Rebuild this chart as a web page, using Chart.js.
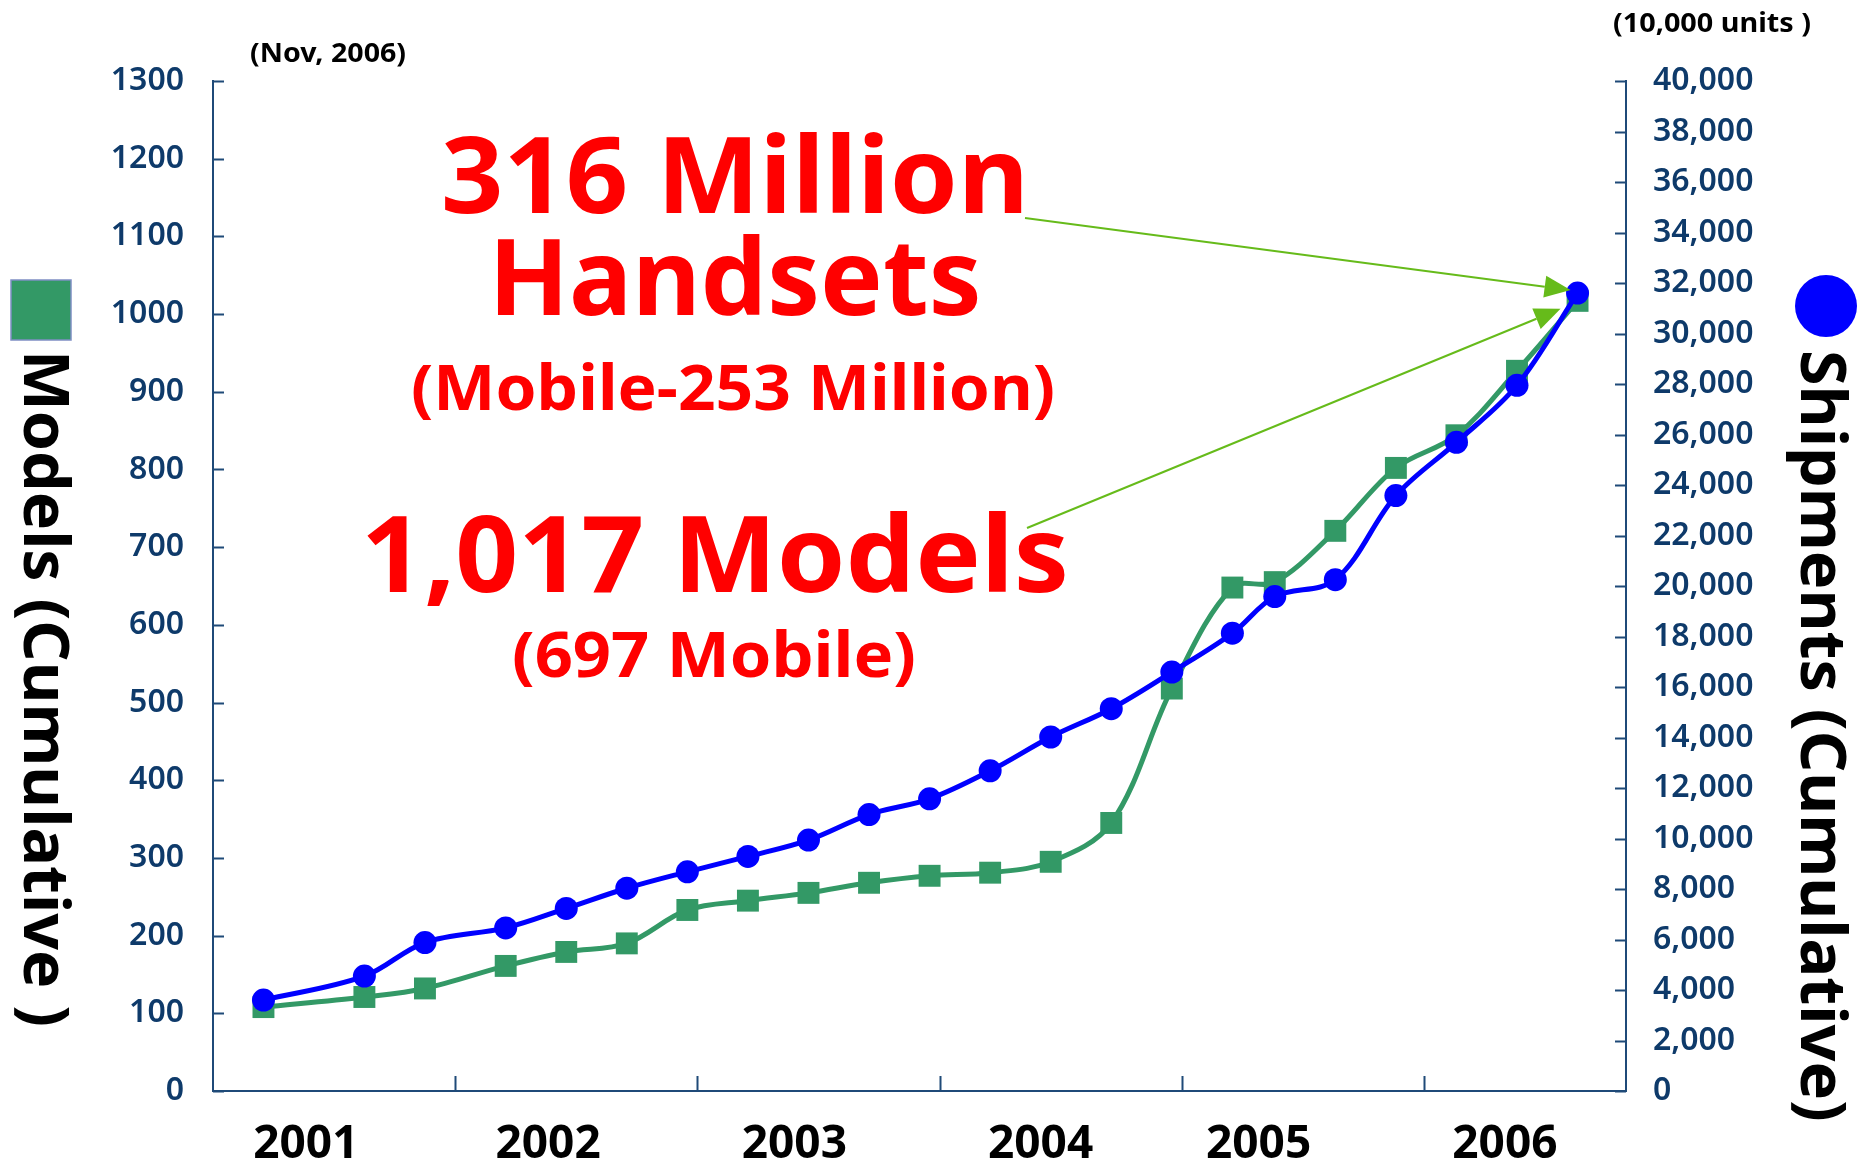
<!DOCTYPE html>
<html>
<head>
<meta charset="utf-8">
<script src="https://cdn.jsdelivr.net/npm/chart.js@4.4.0/dist/chart.umd.min.js"></script>
<style>
  html, body { margin: 0; padding: 0; background: #fff; overflow: hidden; }
</style>
</head>
<body>
<canvas id="chart" width="1858" height="1161"></canvas>
<script>
// months since Jan 2001 for each survey point
const months = [2.5, 7.5, 10.5, 14.5, 17.5, 20.5, 23.5, 26.5, 29.5, 32.5, 35.5,
                38.5, 41.5, 44.5, 47.5, 50.5, 52.6, 55.6, 58.6, 61.6, 64.6, 67.6];
// cumulative shipments (10,000 units)
const shipments = [3600, 4550, 5880, 6460, 7230, 8030, 8680, 9290, 9940, 10950, 11570,
                   12680, 14020, 15140, 16590, 18130, 19580, 20250, 23580, 25690, 27950, 31600];
// cumulative models
const models = [108, 121, 132, 161, 179, 190, 233, 245, 255, 268, 277,
                281, 295, 345, 518, 648, 655, 721, 802, 844, 927, 1017];
const years = ['2001', '2002', '2003', '2004', '2005', '2006'];
const yearLabelAt = [4.6, 16.6, 28.8, 41.0, 51.8, 64.0];
const yearBreaks = [12, 24, 36, 48, 60];

const AXIS = '#1f4a78';
const TICK_TXT = '#0e3a6a';
const GREEN = '#339966';
const BLUE = '#0000ff';
const ARROW = '#66bb1a';

function fitText(ctx, text, x, y, font, width, align, rot) {
  ctx.save();
  ctx.font = font;
  const w = ctx.measureText(text).width;
  ctx.translate(x, y);
  if (rot) ctx.rotate(rot);
  ctx.scale(width / w, 1);
  ctx.textAlign = align;
  ctx.textBaseline = 'alphabetic';
  ctx.fillText(text, 0, 0);
  ctx.restore();
}

function arrow(ctx, x1, y1, x2, y2) {
  const a = Math.atan2(y2 - y1, x2 - x1);
  const len = 26, half = 11;
  const bx = x2 - len * Math.cos(a), by = y2 - len * Math.sin(a);
  ctx.save();
  ctx.strokeStyle = ARROW;
  ctx.fillStyle = ARROW;
  ctx.lineWidth = 2;
  ctx.beginPath();
  ctx.moveTo(x1, y1);
  ctx.lineTo(bx, by);
  ctx.stroke();
  ctx.beginPath();
  ctx.moveTo(x2, y2);
  ctx.lineTo(bx + half * Math.sin(a), by - half * Math.cos(a));
  ctx.lineTo(bx - half * Math.sin(a), by + half * Math.cos(a));
  ctx.closePath();
  ctx.fill();
  ctx.restore();
}

const decorations = {
  id: 'decorations',
  afterDraw(chart) {
    const ctx = chart.ctx;
    const xs = chart.scales.x, yl = chart.scales.y, yr = chart.scales.y2;
    const area = chart.chartArea;

    // inward tick marks
    ctx.save();
    ctx.strokeStyle = AXIS;
    ctx.lineWidth = 2;
    ctx.beginPath();
    yl.ticks.forEach(t => {
      const p = Math.round(yl.getPixelForValue(t.value)) + 0.5;
      ctx.moveTo(area.left, p); ctx.lineTo(area.left + 11, p);
    });
    yr.ticks.forEach(t => {
      const p = Math.round(yr.getPixelForValue(t.value)) + 0.5;
      ctx.moveTo(area.right, p); ctx.lineTo(area.right - 11, p);
    });
    yearBreaks.forEach(m => {
      const p = Math.round(xs.getPixelForValue(m)) + 0.5;
      ctx.moveTo(p, area.bottom); ctx.lineTo(p, area.bottom - 15);
    });
    ctx.stroke();
    ctx.restore();

    // small captions
    ctx.fillStyle = '#000';
    fitText(ctx, '(Nov, 2006)', 250, 62, 'bold 26px "Noto Sans"', 156, 'left');
    fitText(ctx, '(10,000 units )', 1613, 32, 'bold 26px "Noto Sans"', 198, 'left');

    // axis titles, reading top to bottom
    fitText(ctx, 'Models (Cumulative )', 24, 350, 'bold 63px "Noto Sans"', 677, 'left', Math.PI / 2);
    fitText(ctx, 'Shipments (Cumulative)', 1801, 350, 'bold 63px "Noto Sans"', 772, 'left', Math.PI / 2);

    // legend marks
    ctx.save();
    ctx.fillStyle = GREEN;
    ctx.fillRect(11, 280, 60, 60);
    ctx.strokeStyle = '#7f8fc4';
    ctx.lineWidth = 1.5;
    ctx.strokeRect(11, 280, 60, 60);
    ctx.fillStyle = BLUE;
    ctx.beginPath();
    ctx.ellipse(1826, 306, 31, 31, 0, 0, Math.PI * 2);
    ctx.fill();
    ctx.restore();

    // red headline text
    ctx.fillStyle = '#ff0000';
    fitText(ctx, '316 Million', 735, 213, 'bold 106px "Noto Sans"', 588, 'center');
    fitText(ctx, 'Handsets', 735, 315, 'bold 106px "Noto Sans"', 493, 'center');
    fitText(ctx, '(Mobile-253 Million)', 733, 410, 'bold 63px "Noto Sans"', 644, 'center');
    fitText(ctx, '1,017 Models', 715, 592, 'bold 106px "Noto Sans"', 708, 'center');
    fitText(ctx, '(697 Mobile)', 714, 677, 'bold 63px "Noto Sans"', 404, 'center');

    // arrows to the latest points
    const last = months.length - 1;
    const bx = xs.getPixelForValue(months[last]);
    const by = yr.getPixelForValue(shipments[last]);
    const gy = yl.getPixelForValue(models[last]);
    arrow(ctx, 1025, 218, bx - 7, by - 3);
    arrow(ctx, 1027, 528, bx - 17, gy + 8);
  }
};

new Chart(document.getElementById('chart'), {
  type: 'line',
  data: {
    datasets: [{
      label: 'Shipments (Cumulative)',
      data: months.map((m, i) => ({ x: m, y: shipments[i] })),
      yAxisID: 'y2',
      borderColor: BLUE,
      backgroundColor: BLUE,
      borderWidth: 5,
      pointStyle: 'circle',
      pointRadius: 11.5,
      pointBorderWidth: 0,
      tension: 0.35
    }, {
      label: 'Models (Cumulative)',
      data: months.map((m, i) => ({ x: m, y: models[i] })),
      yAxisID: 'y',
      borderColor: GREEN,
      backgroundColor: GREEN,
      borderWidth: 5,
      pointStyle: 'rect',
      pointRadius: 15.5,
      pointBorderWidth: 0,
      tension: 0.35
    }]
  },
  options: {
    responsive: false,
    animation: false,
    devicePixelRatio: 1,
    layout: { padding: { top: 81, left: 0, right: 0, bottom: 0 } },
    plugins: { legend: { display: false }, tooltip: { enabled: false } },
    scales: {
      x: {
        type: 'linear',
        min: 0,
        max: 70,
        grid: { display: false },
        border: { display: true, color: AXIS, width: 2 },
        afterBuildTicks: s => { s.ticks = yearLabelAt.map(v => ({ value: v })); },
        afterFit: s => { s.height = 70; },
        ticks: {
          padding: 18,
          color: '#000',
          font: { family: 'Noto Sans', size: 46, weight: 'bold' },
          callback: (v, i) => years[i]
        }
      },
      y: {
        position: 'left',
        min: 0,
        max: 1300,
        grid: { display: false },
        border: { display: true, color: AXIS, width: 2 },
        afterFit: s => { s.width = 213; },
        ticks: {
          stepSize: 100,
          padding: 21,
          color: TICK_TXT,
          font: { family: 'Noto Sans', size: 32, weight: '600' },
          callback: v => String(v)
        }
      },
      y2: {
        position: 'right',
        min: 0,
        max: 40000,
        grid: { display: false },
        border: { display: true, color: AXIS, width: 2 },
        afterFit: s => { s.width = 232; },
        ticks: {
          stepSize: 2000,
          padding: 19,
          color: TICK_TXT,
          font: { family: 'Noto Sans', size: 32, weight: '600' },
          callback: v => v.toLocaleString('en-US')
        }
      }
    }
  },
  plugins: [decorations]
});
</script>
</body>
</html>
